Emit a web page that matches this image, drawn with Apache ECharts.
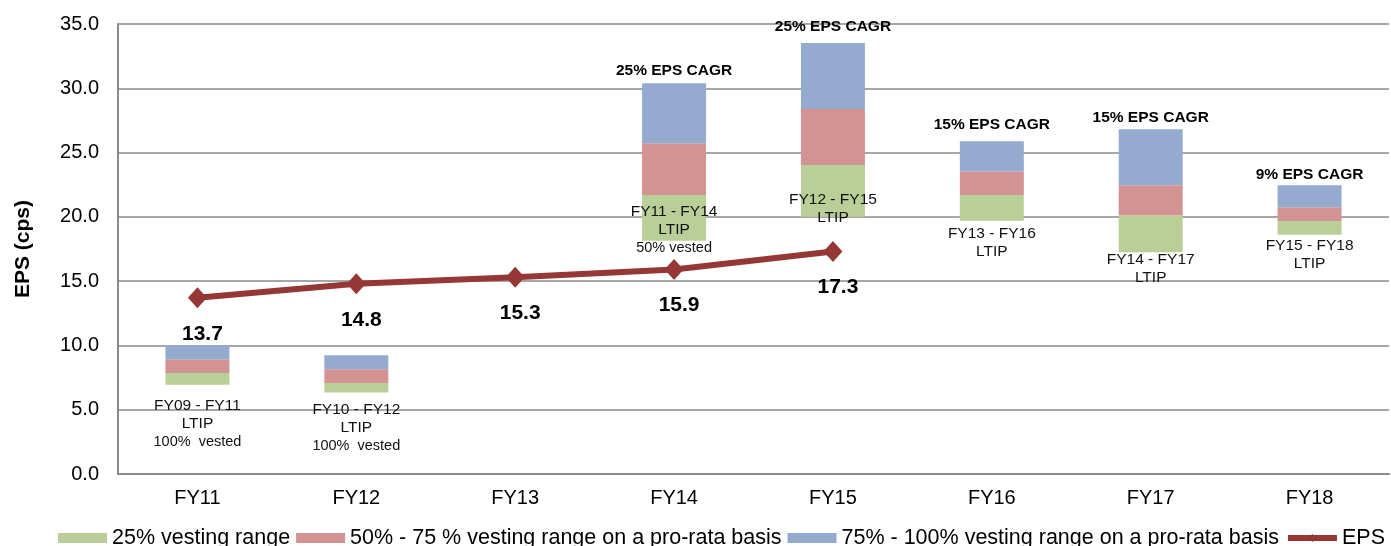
<!DOCTYPE html>
<html>
<head>
<meta charset="utf-8">
<script src="https://cdn.jsdelivr.net/npm/echarts@6/dist/echarts.min.js"></script>
<style>
  html, body { margin: 0; padding: 0; background: #fff; }
  #main { width: 1391px; height: 546px; }
</style>
</head>
<body>
<div id="main"></div>
<script>
// 数据
var years = ['FY11', 'FY12', 'FY13', 'FY14', 'FY15', 'FY16', 'FY17', 'FY18'];
var rangeLow = [6.95, 6.33, null, 18.14, 20.01, 19.70, 17.24, 18.60];   // bottom of 25% range
var greenTop = [7.85, 7.08, null, 21.70, 24.04, 21.70, 20.12, 19.67];
var redTop   = [8.92, 8.14, null, 25.73, 28.38, 23.52, 22.46, 20.74];
var blueTop  = [10.00, 9.23, null, 30.40, 33.52, 25.88, 26.82, 22.46];
var eps = [13.7, 14.8, 15.3, 15.9, 17.3, null, null, null];
var planNames = ['FY09 - FY11', 'FY10 - FY12', '', 'FY11 - FY14', 'FY12 - FY15', 'FY13 - FY16', 'FY14 - FY17', 'FY15 - FY18'];
var vestedNotes = ['100%  vested', '100%  vested', '', '50% vested', '', '', '', ''];
var cagrNotes = ['', '', '', '25% EPS CAGR', '25% EPS CAGR', '15% EPS CAGR', '15% EPS CAGR', '9% EPS CAGR'];
var legendNames = ['25% vesting range', '50% - 75 % vesting range on a pro-rata basis', '75% - 100% vesting range on a pro-rata basis', 'EPS'];

var FONT = '"Liberation Sans", Arial, sans-serif';
var EPS_COLOR = '#953735';

function diff(top, bottom) {
	return top.map(function(v, i) {
		return (v == null || bottom[i] == null) ? null : +(v - bottom[i]).toFixed(2);
	});
}

// 文本框的位置微调（原图是手动放的）
var noteShift = [12, 8, 0, -38, -26, 4, -2, 2];
var cagrShift = [0, 0, 0, 4, 8, 9, 3, 3];

var greenData = diff(greenTop, rangeLow).map(function(v, i) {
	return {value: v, label: {offset: [0, noteShift[i]]}};
});
var blueData = diff(blueTop, redTop).map(function(v, i) {
	return {value: v, label: {distance: cagrShift[i]}};
});

var chart = echarts.init(document.getElementById('main'));
chart.setOption({
	animation: false,
	textStyle: {fontFamily: FONT},
	grid: {left: 118, right: 2, top: 24, bottom: 72},
	legend: {
		data: [
			{name: legendNames[0], icon: 'rect'},
			{name: legendNames[1], icon: 'rect'},
			{name: legendNames[2], icon: 'rect'},
			{name: 'EPS', lineStyle: {width: 6, color: EPS_COLOR}, itemStyle: {color: EPS_COLOR}}
		],
		left: 53,
		top: 522,
		width: 1420,   // 不换行
		itemWidth: 49,
		itemHeight: 10,
		itemGap: 6,
		textStyle: {fontSize: 21.5, color: '#000', fontFamily: FONT}
	},
	xAxis: {
		type: 'category',
		data: years,
		axisLine: {lineStyle: {color: '#8a8a8a', width: 2}},
		axisTick: {show: false},
		axisLabel: {fontSize: 20, color: '#000', margin: 14}
	},
	yAxis: {
		type: 'value',
		min: 0,
		max: 35,
		interval: 5,
		name: 'EPS (cps)',
		nameLocation: 'middle',
		nameGap: 84,
		nameTextStyle: {fontSize: 21, fontWeight: 'bold', color: '#000'},
		axisLine: {show: true, lineStyle: {color: '#8a8a8a', width: 2}},
		axisTick: {show: false},
		splitLine: {lineStyle: {color: '#8a8a8a', width: 1.5}},
		axisLabel: {
			fontSize: 20, color: '#000', margin: 19,
			formatter: function(v) { return v.toFixed(1); }
		}
	},
	series: [
		{
			name: 'base',
			type: 'bar',
			stack: 'range',
			barWidth: 64,
			itemStyle: {color: 'transparent'},
			emphasis: {disabled: true},
			data: rangeLow
		},
		{
			name: legendNames[0],
			type: 'bar',
			stack: 'range',
			itemStyle: {color: '#bacf97'},
			label: {
				show: true,
				position: 'bottom',
				distance: 0,
				formatter: function(p) {
					var s = '{a|' + planNames[p.dataIndex] + '}\n{a|LTIP}';
					if (vestedNotes[p.dataIndex]) s += '\n{b|' + vestedNotes[p.dataIndex] + '}';
					return s;
				},
				rich: {
					a: {fontSize: 15.5, lineHeight: 18, color: '#111', fontFamily: FONT},
					b: {fontSize: 14.5, lineHeight: 19, color: '#111', fontFamily: FONT}
				}
			},
			data: greenData
		},
		{
			name: legendNames[1],
			type: 'bar',
			stack: 'range',
			itemStyle: {color: '#d39392'},
			data: diff(redTop, greenTop)
		},
		{
			name: legendNames[2],
			type: 'bar',
			stack: 'range',
			itemStyle: {color: '#95aacf'},
			label: {
				show: true,
				position: 'top',
				fontSize: 15.5,
				fontWeight: 'bold',
				color: '#000',
				formatter: function(p) { return cagrNotes[p.dataIndex]; }
			},
			data: blueData
		},
		{
			name: 'EPS',
			type: 'line',
			data: eps,
			symbol: 'diamond',
			symbolSize: [19, 21],
			lineStyle: {color: EPS_COLOR, width: 6},
			itemStyle: {color: EPS_COLOR},
			label: {
				show: true,
				position: 'bottom',
				distance: 15,
				offset: [5, 0],
				fontSize: 21,
				fontWeight: 'bold',
				color: '#000',
				formatter: function(p) { return p.value.toFixed(1); }
			},
			z: 5
		}
	]
});
</script>
</body>
</html>
